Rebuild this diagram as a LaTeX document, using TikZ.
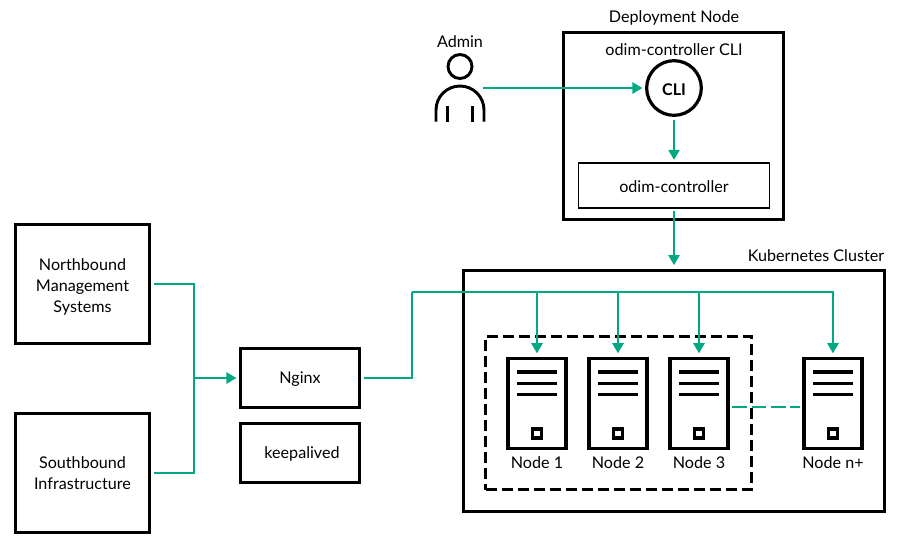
\documentclass[tikz,border=0pt]{standalone}
\usepackage{fontspec}
\setmainfont{Lato}
\usetikzlibrary{arrows.meta}
\definecolor{hpegreen}{HTML}{01A982}
\tikzset{
    lowtext/.style={execute at begin node={\rule{0pt}{11pt}}},
    boxthick/.style={draw=black, line width=2.4pt, align=center, lowtext},
    boxthin/.style={draw=black, line width=1.1pt, align=center, lowtext},
    serverbox/.style={draw=black, line width=2.4pt, minimum width=43.5pt, minimum height=67pt},
    serverlabel/.style={inner sep=0pt},
    capt/.style={inner sep=0pt},
    link/.style={draw=hpegreen, line width=1.2pt},
    linkarrow/.style={link, -{Triangle[width=8.5pt,length=7.5pt]}},
    figure/.style={line width=2.2pt}
}
\begin{document}
\begin{tikzpicture}[x=0.75pt, y=-0.75pt, font=\fontsize{12.1pt}{15.8pt}\selectfont]
    \useasboundingbox (0,0) rectangle (900,540);

    % Caixes de l'esquerra
    \node (north) [boxthick, minimum width=100.5pt, minimum height=89pt] at (82.5,284) {\rule{0pt}{12.8pt}Northbound\\Management\\Systems};
    \node (south) [boxthick, minimum width=100.5pt, minimum height=89pt] at (82.5,473) {Southbound\\Infrastructure};
    \node (nginx) [boxthick, minimum width=89pt, minimum height=44pt] at (300,378) {Nginx};
    \node (keep) [boxthick, minimum width=89pt, minimum height=44pt] at (300,453) {\hspace*{3pt}keepalived};

    % Node de desplegament
    \node (deploy) [boxthick, minimum width=165.5pt, minimum height=140pt] at (673.5,126) {};
    \node (deploytitle) [capt] at (674,17.5) {Deployment Node};
    \node (clititle) [capt] at (674,49.5) {odim-controller CLI};
    \node (cli) [boxthick, circle, minimum size=41pt, inner sep=0pt, font=\fontsize{12.1pt}{14pt}\selectfont\bfseries] at (674,88) {CLI};
    \node (ctrl) [boxthin, minimum width=143pt, minimum height=33.5pt] at (674,185.5) {odim-controller};

    % Administrador
    \node (admintitle) [capt] at (460,41.5) {Admin};
    \draw[figure] (460,66.5) circle (12);
    \draw[figure] (436,121.5) -- (436,110) arc[start angle=180, end angle=360, radius=24] -- (484,121.5);
    \draw[figure] (447.5,106) -- (447.5,121.5);
    \draw[figure] (472.5,106) -- (472.5,121.5);
    \coordinate (adminhand) at (483,88);

    % Cluster
    \node (cluster) [boxthick, minimum width=316pt, minimum height=180.5pt] at (674,391) {};
    \node (clustertitle) [capt] at (816,255.5) {Kubernetes Cluster};
    \node (group) [draw=black, line width=2.4pt, dash pattern=on 8pt off 4pt, minimum width=199pt, minimum height=115pt] at (618.5,413) {};

    % Servidors
    \node (node1) [serverbox] at (537,403.5) {};
    \node (node2) [serverbox] at (618,403.5) {};
    \node (node3) [serverbox] at (699,403.5) {};
    \node (noden) [serverbox] at (833,403.5) {};
    \foreach \n in {node1,node2,node3,noden}{
        \begin{scope}[shift={(\n.center)}]
            \draw[line width=2.4pt] (-20,-31.5) -- (20,-31.5);
            \draw[line width=2.4pt] (-20,-20) -- (20,-20);
            \draw[line width=2.4pt] (-20,-9) -- (20,-9);
            \draw[line width=2.7pt] (-4.5,25.5) rectangle (4.5,34.5);
        \end{scope}
    }
    \node (label1) [serverlabel] at (537,462.5) {Node 1};
    \node (label2) [serverlabel] at (618,462.5) {Node 2};
    \node (label3) [serverlabel] at (699,462.5) {Node 3};
    \node (labeln) [serverlabel] at (833,462.5) {Node n+};

    % Connexions
    \coordinate (joint) at (194,378);
    \coordinate (bus) at (412,292);
    \draw[link, shorten <=2pt] (north.east) -| (joint);
    \draw[link, shorten <=2pt] (south.east) -| (joint);
    \draw[linkarrow, shorten >=2pt] (joint) -- (nginx.west);
    \draw[link, shorten <=2pt] (nginx.east) -| (bus);
    \draw[linkarrow, shorten >=3pt] (bus) -| (noden.north);
    \draw[linkarrow, shorten >=3pt] (node1 |- bus) -- (node1.north);
    \draw[linkarrow, shorten >=3pt] (node2 |- bus) -- (node2.north);
    \draw[linkarrow, shorten >=3pt] (node3 |- bus) -- (node3.north);
    \draw[link, dash pattern=on 11pt off 3.5pt, shorten <=2pt, shorten >=2pt] ([yshift=-2.5pt]node3.east) -- ([yshift=-2.5pt]noden.west);
    \draw[linkarrow, shorten >=2pt] (adminhand) -- (cli.west);
    \draw[linkarrow, shorten <=2pt, shorten >=2pt] (cli.south) -- (ctrl.north);
    \draw[linkarrow, shorten <=2pt, shorten >=3pt] (ctrl.south) -- (cluster.north);
\end{tikzpicture}
\end{document}
